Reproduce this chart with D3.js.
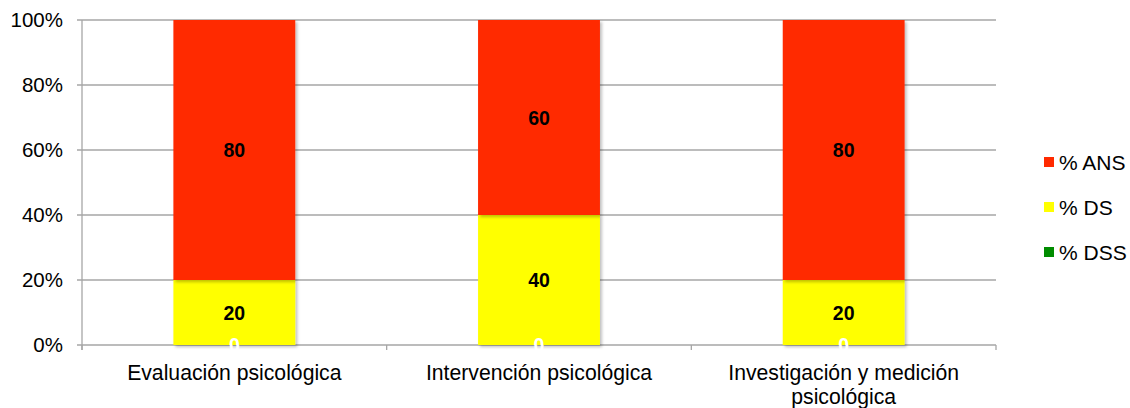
<!DOCTYPE html>
<html>
<head>
<meta charset="utf-8">
<script src="https://cdn.jsdelivr.net/npm/d3@7"></script>
<style>
  body { margin: 0; background: #fff; }
  svg { display: block; font-family: "Liberation Sans", Arial, sans-serif; }
</style>
</head>
<body>
<svg id="chart" width="1130" height="408"></svg>
<script>
const categories = ["Evaluación psicológica", "Intervención psicológica", "Investigación y medición psicológica"];
const seriesNames = ["% DSS", "% DS", "% ANS"];
const dss = [0, 0, 0];
const ds = [20, 40, 20];
const ans = [80, 60, 80];
const yTicks = [0, 0.2, 0.4, 0.6, 0.8, 1.0];
const colors = { "% ANS": "#ff2a00", "% DS": "#ffff00", "% DSS": "#008c00" };

(function () {
const svg = d3.select("#chart");
const mLeft = 82, mRight = 996, mTop = 20, mBottom = 345;

const x = d3.scaleBand().domain(categories).range([mLeft, mRight]).paddingInner(0.6).paddingOuter(0.3);
const y = d3.scaleLinear().domain([0, 1]).range([mBottom, mTop]);

const defs = svg.append("defs");
const f = defs.append("filter").attr("id", "shadow").attr("x", "-10%").attr("y", "-10%").attr("width", "130%").attr("height", "130%");
f.append("feDropShadow").attr("dx", 2).attr("dy", 2).attr("stdDeviation", 1.5).attr("flood-color", "#000").attr("flood-opacity", 0.25);

const grid = "#a6a6a6";

svg.append("g").selectAll("line").data(yTicks).join("line")
  .attr("x1", mLeft - 5).attr("x2", mRight)
  .attr("y1", d => y(d)).attr("y2", d => y(d))
  .attr("stroke", grid).attr("stroke-width", 1.3);

svg.append("line").attr("x1", mLeft).attr("x2", mLeft).attr("y1", mTop).attr("y2", mBottom + 5)
  .attr("stroke", grid).attr("stroke-width", 1.3);

const bounds = [mLeft, ...categories.slice(1).map(c => x(c) - x.step() * x.paddingInner() / 2), mRight];
svg.append("g").selectAll("line").data(bounds).join("line")
  .attr("x1", d => d).attr("x2", d => d).attr("y1", mBottom).attr("y2", mBottom + 5)
  .attr("stroke", grid).attr("stroke-width", 1.3);

svg.append("g").selectAll("text").data(yTicks).join("text")
  .attr("x", mLeft - 19).attr("y", d => y(d)).attr("dy", "0.36em")
  .attr("text-anchor", "end").attr("font-size", 20.5).attr("fill", "#000")
  .text(d => d3.format(".0%")(d));

const rows = categories.map((c, i) => ({ cat: c, "% DSS": dss[i] / 100, "% DS": ds[i] / 100, "% ANS": ans[i] / 100 }));
const stack = d3.stack().keys(seriesNames)(rows);

const gBars = svg.append("g");
stack.forEach(layer => {
  gBars.append("g").attr("fill", colors[layer.key]).attr("filter", "url(#shadow)")
    .selectAll("rect").data(layer).join("rect")
    .attr("x", d => x(d.data.cat)).attr("width", x.bandwidth())
    .attr("y", d => y(d[1])).attr("height", d => y(d[0]) - y(d[1]));
});

stack.forEach(layer => {
  svg.append("g").selectAll("text").data(layer).join("text")
    .attr("x", d => x(d.data.cat) + x.bandwidth() / 2)
    .attr("y", d => (y(d[0]) + y(d[1])) / 2).attr("dy", "0.36em")
    .attr("text-anchor", "middle").attr("font-size", 19.5).attr("font-weight", "bold")
    .attr("fill", layer.key === "% DSS" ? "#fff" : "#000")
    .text(d => Math.round((d[1] - d[0]) * 100));
});

const catLines = [["Evaluación psicológica"], ["Intervención psicológica"], ["Investigación y medición", "psicológica"]];
categories.forEach((c, i) => {
  const t = svg.append("text").attr("text-anchor", "middle").attr("font-size", 21.2).attr("fill", "#000")
    .attr("x", x(c) + x.bandwidth() / 2).attr("y", 380);
  catLines[i].forEach((ln, j) => {
    t.append("tspan").attr("x", x(c) + x.bandwidth() / 2).attr("dy", j === 0 ? 0 : 24).text(ln);
  });
});

const legendOrder = ["% ANS", "% DS", "% DSS"];
const lg = svg.append("g");
legendOrder.forEach((k, i) => {
  const cy = 162 + i * 45;
  lg.append("rect").attr("x", 1044).attr("y", cy - 5).attr("width", 10).attr("height", 10).attr("fill", colors[k]);
  lg.append("text").attr("x", 1059).attr("y", cy).attr("dy", "0.36em").attr("font-size", 21).attr("fill", "#000").text(k);
});
})();
</script>
</body>
</html>
